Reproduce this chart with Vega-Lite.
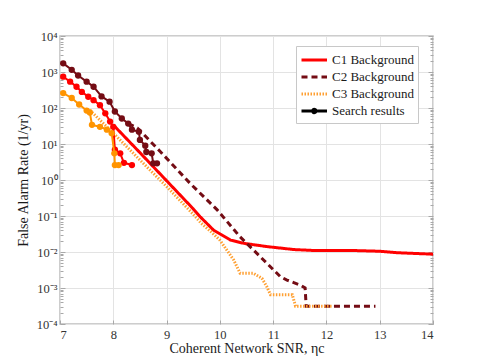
{
 "$schema": "https://vega.github.io/schema/vega-lite/v6.json",
 "width": 373, "height": 288,
 "autosize": "none",
 "padding": {"left": 60, "top": 36, "right": 48, "bottom": 37},
 "background": "white",
 "config": {
  "font": "Liberation Serif",
  "view": {"stroke": "#bdbdbd", "strokeWidth": 1.5},
  "axis": {"grid": true, "gridColor": "#e3e3e3", "gridWidth": 1, "domain": false, "ticks": true, "tickColor": "#a8a8a8", "labelColor": "#333333", "titleColor": "#1a1a1a", "labelFontSize": 12.5, "titleFontSize": 14, "titleFontWeight": "normal", "labelFont": "Liberation Serif", "titleFont": "Liberation Serif"}
 },
 "data": {"values": [
  {"snr": 8.0, "far": 33.9, "curve": "C1 Background", "set": "Background"},
  {"snr": 8.5, "far": 5.75, "curve": "C1 Background", "set": "Background"},
  {"snr": 9.0, "far": 0.955, "curve": "C1 Background", "set": "Background"},
  {"snr": 9.5, "far": 0.158, "curve": "C1 Background", "set": "Background"},
  {"snr": 9.63, "far": 0.0955, "curve": "C1 Background", "set": "Background"},
  {"snr": 9.88, "far": 0.0407, "curve": "C1 Background", "set": "Background"},
  {"snr": 10.2, "far": 0.0214, "curve": "C1 Background", "set": "Background"},
  {"snr": 10.45, "far": 0.0174, "curve": "C1 Background", "set": "Background"},
  {"snr": 10.89, "far": 0.0141, "curve": "C1 Background", "set": "Background"},
  {"snr": 11.39, "far": 0.0117, "curve": "C1 Background", "set": "Background"},
  {"snr": 11.76, "far": 0.011, "curve": "C1 Background", "set": "Background"},
  {"snr": 12.5, "far": 0.011, "curve": "C1 Background", "set": "Background"},
  {"snr": 13.0, "far": 0.0105, "curve": "C1 Background", "set": "Background"},
  {"snr": 13.33, "far": 0.00955, "curve": "C1 Background", "set": "Background"},
  {"snr": 14.0, "far": 0.0087, "curve": "C1 Background", "set": "Background"},

  {"snr": 8.28, "far": 37, "curve": "C2 Background", "set": "Background"},
  {"snr": 8.45, "far": 28, "curve": "C2 Background", "set": "Background"},
  {"snr": 8.6, "far": 16.6, "curve": "C2 Background", "set": "Background"},
  {"snr": 8.88, "far": 6.2, "curve": "C2 Background", "set": "Background"},
  {"snr": 9.44, "far": 0.81, "curve": "C2 Background", "set": "Background"},
  {"snr": 9.95, "far": 0.148, "curve": "C2 Background", "set": "Background"},
  {"snr": 10.38, "far": 0.0263, "curve": "C2 Background", "set": "Background"},
  {"snr": 10.82, "far": 0.006, "curve": "C2 Background", "set": "Background"},
  {"snr": 11.14, "far": 0.00204, "curve": "C2 Background", "set": "Background"},
  {"snr": 11.26, "far": 0.00166, "curve": "C2 Background", "set": "Background"},
  {"snr": 11.51, "far": 0.0012, "curve": "C2 Background", "set": "Background"},
  {"snr": 11.6, "far": 0.001, "curve": "C2 Background", "set": "Background"},
  {"snr": 11.62, "far": 0.00031, "curve": "C2 Background", "set": "Background"},
  {"snr": 12.92, "far": 0.00031, "curve": "C2 Background", "set": "Background"},

  {"snr": 7.56, "far": 87, "curve": "C3 Background", "set": "Background"},
  {"snr": 8.0, "far": 20, "curve": "C3 Background", "set": "Background"},
  {"snr": 8.5, "far": 3.6, "curve": "C3 Background", "set": "Background"},
  {"snr": 9.0, "far": 0.66, "curve": "C3 Background", "set": "Background"},
  {"snr": 9.5, "far": 0.112, "curve": "C3 Background", "set": "Background"},
  {"snr": 9.65, "far": 0.063, "curve": "C3 Background", "set": "Background"},
  {"snr": 9.85, "far": 0.035, "curve": "C3 Background", "set": "Background"},
  {"snr": 10.0, "far": 0.0214, "curve": "C3 Background", "set": "Background"},
  {"snr": 10.26, "far": 0.006, "curve": "C3 Background", "set": "Background"},
  {"snr": 10.38, "far": 0.00257, "curve": "C3 Background", "set": "Background"},
  {"snr": 10.63, "far": 0.00257, "curve": "C3 Background", "set": "Background"},
  {"snr": 10.79, "far": 0.00186, "curve": "C3 Background", "set": "Background"},
  {"snr": 10.88, "far": 0.0011, "curve": "C3 Background", "set": "Background"},
  {"snr": 10.95, "far": 0.00065, "curve": "C3 Background", "set": "Background"},
  {"snr": 11.36, "far": 0.00065, "curve": "C3 Background", "set": "Background"},
  {"snr": 11.42, "far": 0.00031, "curve": "C3 Background", "set": "Background"},
  {"snr": 12.1, "far": 0.00031, "curve": "C3 Background", "set": "Background"},

  {"snr": 7.06, "far": 740, "curve": "C1", "set": "Search"},
  {"snr": 7.19, "far": 540, "curve": "C1", "set": "Search"},
  {"snr": 7.31, "far": 390, "curve": "C1", "set": "Search"},
  {"snr": 7.41, "far": 280, "curve": "C1", "set": "Search"},
  {"snr": 7.53, "far": 205, "curve": "C1", "set": "Search"},
  {"snr": 7.63, "far": 165, "curve": "C1", "set": "Search"},
  {"snr": 7.75, "far": 120, "curve": "C1", "set": "Search"},
  {"snr": 7.85, "far": 71, "curve": "C1", "set": "Search"},
  {"snr": 7.94, "far": 42, "curve": "C1", "set": "Search"},
  {"snr": 8.0, "far": 30, "curve": "C1", "set": "Search"},
  {"snr": 8.03, "far": 7, "curve": "C1", "set": "Search"},
  {"snr": 8.13, "far": 5.5, "curve": "C1", "set": "Search"},
  {"snr": 8.2, "far": 3.0, "curve": "C1", "set": "Search"},
  {"snr": 8.35, "far": 2.6, "curve": "C1", "set": "Search"},

  {"snr": 7.06, "far": 1740, "curve": "C2", "set": "Search"},
  {"snr": 7.22, "far": 1150, "curve": "C2", "set": "Search"},
  {"snr": 7.34, "far": 800, "curve": "C2", "set": "Search"},
  {"snr": 7.5, "far": 540, "curve": "C2", "set": "Search"},
  {"snr": 7.63, "far": 390, "curve": "C2", "set": "Search"},
  {"snr": 7.78, "far": 210, "curve": "C2", "set": "Search"},
  {"snr": 7.93, "far": 150, "curve": "C2", "set": "Search"},
  {"snr": 8.03, "far": 80, "curve": "C2", "set": "Search"},
  {"snr": 8.16, "far": 51, "curve": "C2", "set": "Search"},
  {"snr": 8.28, "far": 37, "curve": "C2", "set": "Search"},
  {"snr": 8.35, "far": 25, "curve": "C2", "set": "Search"},
  {"snr": 8.48, "far": 22, "curve": "C2", "set": "Search"},
  {"snr": 8.5, "far": 13, "curve": "C2", "set": "Search"},
  {"snr": 8.6, "far": 9, "curve": "C2", "set": "Search"},
  {"snr": 8.62, "far": 6, "curve": "C2", "set": "Search"},
  {"snr": 8.72, "far": 5.5, "curve": "C2", "set": "Search"},
  {"snr": 8.75, "far": 2.9, "curve": "C2", "set": "Search"},
  {"snr": 8.82, "far": 2.9, "curve": "C2", "set": "Search"},

  {"snr": 7.06, "far": 260, "curve": "C3", "set": "Search"},
  {"snr": 7.22, "far": 190, "curve": "C3", "set": "Search"},
  {"snr": 7.36, "far": 125, "curve": "C3", "set": "Search"},
  {"snr": 7.5, "far": 85, "curve": "C3", "set": "Search"},
  {"snr": 7.56, "far": 75, "curve": "C3", "set": "Search"},
  {"snr": 7.6, "far": 34, "curve": "C3", "set": "Search"},
  {"snr": 7.75, "far": 30, "curve": "C3", "set": "Search"},
  {"snr": 7.88, "far": 25, "curve": "C3", "set": "Search"},
  {"snr": 7.97, "far": 20, "curve": "C3", "set": "Search"},
  {"snr": 8.02, "far": 5.5, "curve": "C3", "set": "Search"},
  {"snr": 8.03, "far": 2.6, "curve": "C3", "set": "Search"},
  {"snr": 8.1, "far": 2.6, "curve": "C3", "set": "Search"}
 ]},
 "encoding": {
  "x": {"field": "snr", "type": "quantitative", "scale": {"domain": [7, 14], "nice": false, "zero": false},
        "axis": {"values": [7, 8, 9, 10, 11, 12, 13, 14], "title": "Coherent Network SNR, ηc", "labelPadding": 8, "titlePadding": 1, "tickSize": -4, "labelFont": "Liberation Serif"}}
 },
 "resolve": {"axis": {"y": "independent"}},
 "layer": [
  {
   "transform": [{"filter": "datum.set === 'Background'"}],
   "mark": {"type": "line", "clip": true},
   "encoding": {
    "y": {"field": "far", "type": "quantitative", "scale": {"type": "log", "domain": [0.0001, 10000], "nice": false},
        "axis": {"orient": "left", "values": [0.0001, 0.0002, 0.0003, 0.0004, 0.0005, 0.0006, 0.0007, 0.0008, 0.0009,
                            0.001, 0.002, 0.003, 0.004, 0.005, 0.006, 0.007, 0.008, 0.009,
                            0.01, 0.02, 0.03, 0.04, 0.05, 0.06, 0.07, 0.08, 0.09,
                            0.1, 0.2, 0.3, 0.4, 0.5, 0.6, 0.7, 0.8, 0.9,
                            1, 2, 3, 4, 5, 6, 7, 8, 9,
                            10, 20, 30, 40, 50, 60, 70, 80, 90,
                            100, 200, 300, 400, 500, 600, 700, 800, 900,
                            1000, 2000, 3000, 4000, 5000, 6000, 7000, 8000, 9000, 10000],
                 "labelExpr": "abs(log(datum.value)/LN10 - round(log(datum.value)/LN10)) < 0.001 ? ['10⁻⁴','10⁻³','10⁻²','10⁻¹','10⁰','10¹','10²','10³','10⁴'][round(log(datum.value)/LN10)+4] : ''",
                 "gridOpacity": {"condition": {"test": "abs(log(datum.value)/LN10 - round(log(datum.value)/LN10)) < 0.001", "value": 1}, "value": 0},
                 "tickSize": {"condition": {"test": "abs(log(datum.value)/LN10 - round(log(datum.value)/LN10)) < 0.001", "value": -5}, "value": -3},
                 "labelFont": "Liberation Serif",
                 "title": "False Alarm Rate (1/yr)", "labelPadding": 8, "titlePadding": 6}},
    "color": {"field": "curve", "type": "nominal",
      "scale": {"domain": ["C1 Background", "C2 Background", "C3 Background", "Search results"], "range": ["#ff0000", "#740c14", "#ffa033", "#000000"]},
      "legend": {"orient": "none", "legendX": 236, "legendY": 10, "title": null, "symbolSize": 289, "symbolStrokeWidth": 3,
                 "labelFontSize": 13, "labelFont": "Liberation Serif", "labelColor": "#1a1a1a", "rowPadding": 0, "padding": 4,
                 "strokeColor": "#c8c8c8", "fillColor": "white", "labelOffset": 12,
                 "encode": {"symbols": {"update": {
                    "shape": {"signal": "datum.value === 'Search results' ? 'M-1,0H2M0.3,0A0.2,0.2 0 1,1 0.7,0A0.2,0.2 0 1,1 0.3,0Z' : 'M-1,0H2'"},
                    "fill": {"signal": "datum.value === 'Search results' ? '#000000' : 'transparent'"}}}}}},
    "strokeDash": {"field": "curve", "type": "nominal",
      "scale": {"domain": ["C1 Background", "C2 Background", "C3 Background", "Search results"], "range": [[1, 0], [6, 4], [1.5, 1.5], [1, 0]]}},
    "strokeWidth": {"field": "curve", "type": "nominal",
      "scale": {"domain": ["C1 Background", "C2 Background", "C3 Background", "Search results"], "range": [3, 3, 2, 2]}, "legend": null}
   }
  },
  {
   "transform": [{"filter": "datum.curve === 'C1'"}],
   "mark": {"type": "line", "color": "#ff0000", "strokeWidth": 2, "point": {"filled": true, "size": 40, "color": "#ff0000"}},
   "encoding": {"y": {"field": "far", "type": "quantitative", "scale": {"type": "log", "domain": [0.0001, 10000], "nice": false}, "axis": null}}
  },
  {
   "transform": [{"filter": "datum.curve === 'C2'"}],
   "mark": {"type": "line", "color": "#740c14", "strokeWidth": 2, "point": {"filled": true, "size": 40, "color": "#740c14"}},
   "encoding": {"y": {"field": "far", "type": "quantitative", "scale": {"type": "log", "domain": [0.0001, 10000], "nice": false}, "axis": null}}
  },
  {
   "transform": [{"filter": "datum.curve === 'C3'"}],
   "mark": {"type": "line", "color": "#ff9400", "strokeWidth": 2, "point": {"filled": true, "size": 40, "color": "#ff9400"}},
   "encoding": {
    "y": {"field": "far", "type": "quantitative", "scale": {"type": "log", "domain": [0.0001, 10000], "nice": false},
          "axis": {"orient": "right", "title": null, "labels": false, "grid": false,
                   "values": [0.0001, 0.0002, 0.0003, 0.0004, 0.0005, 0.0006, 0.0007, 0.0008, 0.0009,
                            0.001, 0.002, 0.003, 0.004, 0.005, 0.006, 0.007, 0.008, 0.009,
                            0.01, 0.02, 0.03, 0.04, 0.05, 0.06, 0.07, 0.08, 0.09,
                            0.1, 0.2, 0.3, 0.4, 0.5, 0.6, 0.7, 0.8, 0.9,
                            1, 2, 3, 4, 5, 6, 7, 8, 9,
                            10, 20, 30, 40, 50, 60, 70, 80, 90,
                            100, 200, 300, 400, 500, 600, 700, 800, 900,
                            1000, 2000, 3000, 4000, 5000, 6000, 7000, 8000, 9000, 10000],
                   "tickSize": {"condition": {"test": "abs(log(datum.value)/LN10 - round(log(datum.value)/LN10)) < 0.001", "value": -5}, "value": -3}}}
   }
  }
 ]
}
